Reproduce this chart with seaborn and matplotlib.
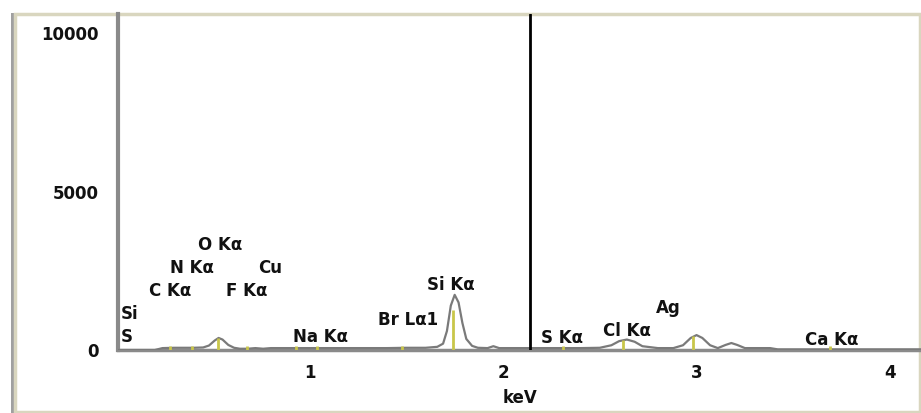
import numpy as np
import pandas as pd
import matplotlib
matplotlib.use("Agg")
import matplotlib.pyplot as plt
import seaborn as sns
from matplotlib.patches import Rectangle

sns.set_style("white")
plt.rcParams['font.family'] = ['DejaVu Sans']

# EDS spectrum (keV, counts)
energy_kev = [0.01, 0.20, 0.24, 0.30, 0.40, 0.45, 0.48, 0.51, 0.53, 0.55,
              0.58, 0.61, 0.64, 0.68, 0.72, 0.76, 0.80, 0.90, 1.00, 1.10,
              1.20, 1.30, 1.40, 1.50, 1.60, 1.66, 1.69, 1.71, 1.73, 1.75,
              1.77, 1.79, 1.81, 1.84, 1.87, 1.92, 1.95, 1.98, 2.05, 2.14,
              2.20, 2.30, 2.40, 2.50, 2.56, 2.60, 2.64, 2.68, 2.72, 2.80,
              2.88, 2.93, 2.97, 3.00, 3.03, 3.07, 3.11, 3.15, 3.18, 3.21,
              3.25, 3.30, 3.38, 3.42, 3.60, 3.80, 4.00, 4.16]
counts = [0, 0, 60, 70, 70, 80, 140, 300, 380, 330,
          160, 70, 40, 40, 60, 40, 60, 60, 60, 60,
          60, 60, 60, 70, 70, 100, 200, 600, 1400, 1740,
          1500, 850, 350, 130, 70, 60, 120, 60, 60, 60,
          60, 60, 60, 70, 150, 280, 330, 260, 120, 60,
          60, 150, 380, 470, 380, 150, 60, 160, 220, 160,
          60, 60, 60, 20, 20, 20, 20, 20]

# element marker lines
marker_kev = [0.277, 0.392, 0.525, 0.677, 0.93, 1.04, 1.48, 1.74, 2.31, 2.62, 2.98, 3.69]
marker_top = [120, 120, 370, 120, 120, 120, 120, 1250, 120, 300, 450, 120]

# peak labels: text, x (keV), y (counts)
label_text = ["O K\u03b1", "N K\u03b1", "Cu", "C K\u03b1", "F K\u03b1", "Si", "S",
              "Na K\u03b1", "Br L\u03b11", "Si K\u03b1", "S K\u03b1", "Cl K\u03b1", "Ag", "Ca K\u03b1"]
label_x = [0.537, 0.393, 0.796, 0.279, 0.677, 0.072, 0.057,
           1.059, 1.509, 1.731, 2.305, 2.641, 2.853, 3.700]
label_y = [3312, 2587, 2587, 1861, 1861, 1136, 410,
           410, 946, 2050, 379, 600, 1325, 315]

cursor_kev = 2.14

yticks = [0, 5000, 10000]
xticks = [1, 2, 3, 4]

spec = pd.DataFrame({"keV": energy_kev, "counts": counts})

fig = plt.figure(figsize=(9.21, 4.13), dpi=100)
# outer frame with a soft shadow on the left
fig.patches.append(Rectangle((11 / 921, 0.0), 5 / 921, 1 - 13 / 413,
                             transform=fig.transFigure, facecolor="#a0a0a0",
                             edgecolor="none", zorder=-3))
fig.patches.append(Rectangle((15 / 921, 1 / 413), 905 / 921, 1 - 15 / 413,
                             transform=fig.transFigure, facecolor="white",
                             edgecolor="#d9d6bf", linewidth=2.5, zorder=-2))

ax = fig.add_axes([118 / 921, 1 - 350 / 413, 1 - 118 / 921, (350 - 14) / 413])
ax.set_facecolor("none")
ax.set_zorder(1)

sns.lineplot(data=spec, x="keV", y="counts", ax=ax, color="#7a7a7a",
             linewidth=1.6, zorder=3)
ax.vlines(marker_kev, 0, marker_top, color="#c9c64a", linewidth=2, zorder=3.5)
ax.axvline(cursor_kev, color="black", linewidth=2, zorder=4)

for t, x, y in zip(label_text, label_x, label_y):
    ax.text(x, y, t, ha="center", va="center", fontsize=12,
            fontweight="bold", color="#111111", zorder=5)

ax.set_xlim(0.01, 4.16)
ax.set_ylim(0, 10600)
ax.set_xticks(xticks)
ax.set_yticks(yticks)
ax.set_xticklabels([str(v) for v in xticks], fontweight="bold", fontsize=12, color="#111111")
ax.set_yticklabels([str(v) for v in yticks], fontweight="bold", fontsize=12, color="#111111")
ax.tick_params(axis="y", direction="out", length=10, width=1.2, color="#555555", pad=4)
ax.tick_params(axis="x", direction="out", length=8, width=1.2, color="#555555", pad=2)
ax.set_xlabel("keV", fontweight="bold", fontsize=12, color="#111111", labelpad=5)
ax.set_ylabel("")

for side in ["top", "right"]:
    ax.spines[side].set_visible(False)
ax.spines["left"].set_color("#8a8a8a")
ax.spines["left"].set_linewidth(3)
ax.spines["bottom"].set_color("#8a8a8a")
ax.spines["bottom"].set_linewidth(2.5)

fig.savefig("out.png", dpi=100)
